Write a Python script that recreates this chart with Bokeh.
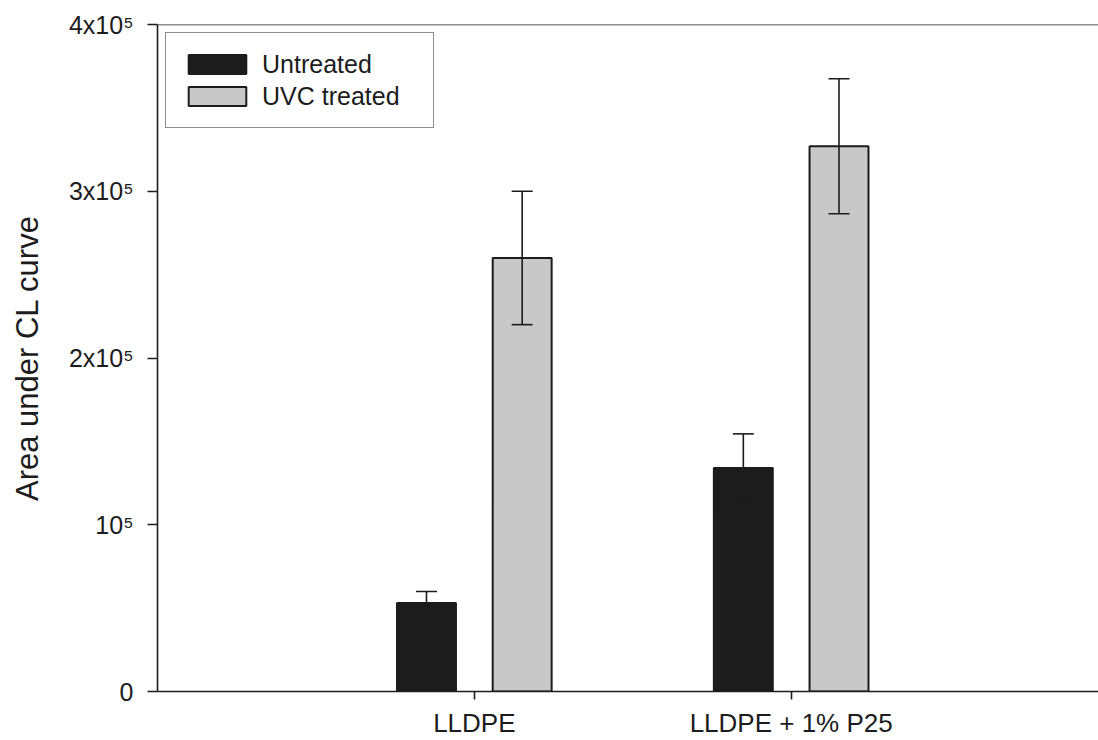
from bokeh.plotting import figure
from bokeh.models import ColumnDataSource, Whisker, FixedTicker, Span, TeeHead
from bokeh.embed import file_html
from bokeh.resources import INLINE

# ---- data ----
categories = ["LLDPE", "LLDPE + 1% P25"]
series_names = ["Untreated", "UVC treated"]
untreated = [53000, 134000]
untreated_err = [7000, 20500]
uvc = [260000, 327000]
uvc_err = [40000, 40500]
y_ticks = [0, 100000, 200000, 300000, 400000]
y_tick_labels = ["0", "10⁵", "2x10⁵", "3x10⁵", "4x10⁵"]

FONT = "Liberation Sans"
INK = "#1c1c1c"
OFFSET = 0.151
BAR_W = 0.186

pos = [i + 1 for i in range(len(categories))]

p = figure(width=1098, height=740, output_backend="svg", toolbar_location=None,
           x_range=(0, 2.97), y_range=(0, 400000))
p.min_border_top = 24
p.min_border_left = 157
p.min_border_right = 0
p.min_border_bottom = 49
p.outline_line_color = None
p.background_fill_color = "white"
p.border_fill_color = "white"
p.xgrid.visible = False
p.ygrid.visible = False

groups = [(untreated, untreated_err, -OFFSET, INK, series_names[0]),
          (uvc, uvc_err, OFFSET, "#c8c8c8", series_names[1])]

for vals, errs, off, col, name in groups:
    xs = [q + off for q in pos]
    src = ColumnDataSource(dict(x=xs, top=vals,
                                upper=[v + e for v, e in zip(vals, errs)],
                                lower=[v - e for v, e in zip(vals, errs)]))
    p.vbar(x="x", top="top", bottom=0, width=BAR_W, source=src,
           fill_color=col, line_color=INK, line_width=2, legend_label=name)
    w = Whisker(source=src, base="x", upper="upper", lower="lower",
                line_color=INK, line_width=1.6, level="overlay",
                upper_head=TeeHead(size=21, line_color=INK, line_width=1.6),
                lower_head=TeeHead(size=21, line_color=INK, line_width=1.6))
    p.add_layout(w)

# top frame line
p.add_layout(Span(location=400000, dimension="width", line_color=INK, line_width=1.6))

# axes
p.xaxis.ticker = FixedTicker(ticks=pos)
p.xaxis.major_label_overrides = {q: c for q, c in zip(pos, categories)}
p.yaxis.ticker = FixedTicker(ticks=y_ticks)
p.yaxis.major_label_overrides = {t: l for t, l in zip(y_ticks, y_tick_labels)}
for ax in (p.xaxis[0], p.yaxis[0]):
    ax.axis_line_color = INK
    ax.axis_line_width = 1.6
    ax.major_tick_line_color = INK
    ax.major_tick_line_width = 1.6
    ax.major_tick_in = 0
    ax.minor_tick_line_color = None
    ax.major_label_text_font = FONT
    ax.major_label_text_color = INK
p.xaxis.major_tick_out = 8
p.yaxis.major_tick_out = 10
p.xaxis.major_label_text_font_size = "26px"
p.xaxis.major_label_standoff = 8
p.yaxis.major_label_text_font_size = "25px"
p.yaxis.major_label_standoff = 14
p.yaxis.axis_label = "Area under CL curve"
p.yaxis.axis_label_text_font = FONT
p.yaxis.axis_label_text_font_size = "31px"
p.yaxis.axis_label_text_font_style = "normal"
p.yaxis.axis_label_text_color = INK
p.yaxis.axis_label_standoff = 21

# legend
lg = p.legend[0]
lg.location = "top_left"
lg.margin = 8
lg.padding = 15
lg.spacing = 0
lg.glyph_width = 72
lg.glyph_height = 24
lg.label_height = 32
lg.label_width = 156
lg.label_standoff = 9
lg.label_text_font = FONT
lg.label_text_font_size = "25px"
lg.label_text_color = INK
lg.border_line_color = INK
lg.border_line_width = 1.6
lg.background_fill_alpha = 1

open("out.html", "w").write(file_html(p, INLINE))
